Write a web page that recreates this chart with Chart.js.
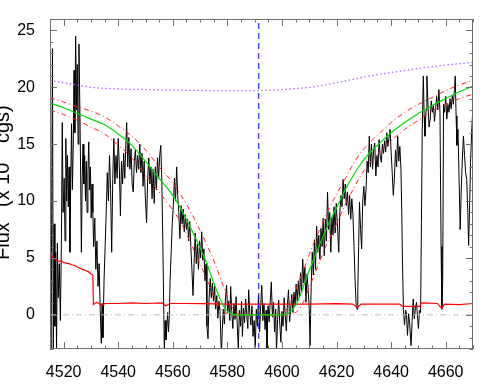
<!DOCTYPE html>
<html>
<head>
<meta charset="utf-8">
<script src="https://cdn.jsdelivr.net/npm/chart.js@4/dist/chart.umd.min.js"></script>
<style>
  body { margin: 0; background: #fff; }
  canvas { display: block; }
</style>
</head>
<body>
<canvas id="chart" width="498" height="388"></canvas>
<script>
// axis ticks
const xTicks = [4520, 4540, 4560, 4580, 4600, 4620, 4640, 4660];
const yTicks = [0, 5, 10, 15, 20, 25];
const markerWave = 4591.5;

// observed spectrum, [wavelength, flux]
const spectrum = [
    [4515, 2], [4515.3, -3.5], [4515.5, 3], [4515.9, 23.4], [4516.2, -3.5], [4516.5, 8.0], [4516.8, -1], [4517.1, 5.5],
    [4517.4, -3.2], [4517.7, 6.3], [4518, 1.5], [4518.4, 4.5], [4518.8, -0.5], [4519.2, 7], [4519.5, 16.9], [4519.8, 9],
    [4520.2, 12], [4520.5, 6.5], [4520.8, 15.5], [4521.1, 10], [4521.4, 14], [4521.7, 9.5], [4522, 13], [4522.3, 5.5],
    [4522.6, 12], [4522.9, 16.8], [4523.2, 11], [4523.5, 14.5], [4523.8, 21.5], [4524.1, 16], [4524.4, 24.5], [4524.7, 18],
    [4525, 22], [4525.3, 15], [4525.6, 23.8], [4525.9, 19], [4526.2, 13], [4526.5, 5.5], [4526.8, 12], [4527.1, 15],
    [4527.4, 11.5], [4527.7, 14], [4528, 10], [4528.3, 13.5], [4528.6, 9], [4528.9, 12.5], [4529.2, 15.2], [4529.5, 11],
    [4529.8, 13], [4530.1, 8.5], [4530.4, 11.5], [4530.7, 9], [4531, 6], [4531.4, 8.5], [4531.8, 4], [4532.2, 6.5],
    [4532.6, 2.5], [4533, 4.5], [4533.4, 0.5], [4533.8, -2.5], [4534.1, 1], [4534.4, -2], [4534.8, 3], [4535.2, 6],
    [4535.6, 9], [4536, 12.5], [4536.4, 10], [4536.8, 14], [4537.2, 11], [4537.6, 5.5], [4538, 12], [4538.4, 15.5],
    [4538.8, 11.5], [4539.2, 14], [4539.6, 12], [4540, 15.5], [4540.4, 13], [4540.8, 8.7], [4541.2, 13.5], [4541.6, 11.5],
    [4542, 14.2], [4542.4, 12], [4542.8, 15], [4543.1, 16.9], [4543.5, 13], [4543.9, 15.6], [4544.3, 12.8], [4544.7, 14.6],
    [4545.1, 11.5], [4545.5, 10.8], [4545.9, 13.5], [4546.3, 14.5], [4546.7, 12.5], [4547.1, 14], [4547.5, 12.8], [4547.9, 15],
    [4548.3, 12.5], [4548.7, 14.2], [4549.1, 11.3], [4549.5, 13.5], [4549.9, 10.5], [4550.4, 8.1], [4550.8, 12], [4551.2, 13.8],
    [4551.6, 11.5], [4552, 13], [4552.4, 10.2], [4552.8, 12.8], [4553.2, 9.8], [4553.6, 13], [4554, 11], [4554.4, 13.8],
    [4554.8, 12], [4555.2, 14], [4555.6, 14.9], [4556, 11.5], [4556.3, 7], [4556.6, 2], [4556.9, -3.3], [4557.2, -0.5],
    [4557.5, -2.2], [4557.8, -1], [4558.1, 0.2], [4558.4, -1.5], [4558.7, -0.3], [4559, 3], [4559.4, 5.5], [4559.8, 8],
    [4560.2, 9.6], [4560.6, 12], [4561, 10], [4561.4, 13], [4561.8, 10.5], [4562.2, 9], [4562.6, 6.7], [4563, 9.6],
    [4563.4, 8], [4563.8, 9.3], [4564.2, 7.3], [4564.6, 8.8], [4565, 7.5], [4565.4, 8.4], [4565.8, 6.5], [4566.2, 8.2],
    [4566.6, 6], [4567, 4], [4567.4, 1.7], [4567.8, 4.5], [4568.2, 7.2], [4568.6, 4.5], [4569, 6.2], [4569.4, 4],
    [4569.8, 6.5], [4570.2, 5], [4570.6, 7.3], [4571, 4.8], [4571.4, 5.8], [4571.8, 3], [4572.2, 4.5], [4572.5, -1],
    [4572.9, -2.1], [4573.3, 1.5], [4573.7, 3.2], [4574.1, 1.5], [4574.5, 2.8], [4574.9, 1.2], [4575.3, 2.5], [4575.7, 0.5],
    [4576.1, 1.7], [4576.5, -0.3], [4576.9, 1.2], [4577.3, 0.3], [4577.8, -3.6], [4578.1, -1.5], [4578.5, 0.5], [4578.9, -0.8],
    [4579.3, 1.5], [4579.7, 2.6], [4580.1, 0.2], [4580.5, 1.2], [4580.9, -0.5], [4581.2, 2.5], [4581.6, 0.3], [4582, -1.2],
    [4582.4, 1], [4582.8, -0.4], [4583.2, 1.6], [4583.6, -0.8], [4584, -3], [4584.4, 0.4], [4584.8, -1], [4585.2, 1.2],
    [4585.5, -1.9], [4585.9, 0.6], [4586.3, -0.7], [4586.7, 1.4], [4587.1, 0], [4587.5, -1.2], [4587.8, 2.2], [4588.2, 0.2],
    [4588.6, -0.9], [4589, 0.8], [4589.4, -1.9], [4589.8, -0.5], [4590.2, -3], [4590.6, 0.5], [4591, -1], [4591.4, 1.7],
    [4591.8, -1.5], [4592.2, 0.8], [4592.6, 2.6], [4593, -0.5], [4593.4, 1], [4593.8, -1.3], [4594.2, 0.4], [4594.5, -3],
    [4594.9, 0.8], [4595.3, -0.6], [4595.7, 1.2], [4596.1, 2.9], [4596.5, -0.2], [4596.9, 1.1], [4597.3, -1.5], [4597.7, 0.5],
    [4598, -3.3], [4598.4, -0.4], [4598.8, 1.3], [4599.2, -0.8], [4599.6, -2.4], [4600, 0.3], [4600.4, -1], [4600.8, 1.5],
    [4601.2, 0], [4601.6, -1.4], [4602, 0.9], [4602.4, 2.2], [4602.8, -0.6], [4603.2, 0.5], [4603.6, 1.8], [4604, 0.2],
    [4604.4, 2], [4604.8, 0.8], [4605.2, 2.7], [4605.6, 1.2], [4606, 3], [4606.4, 1.5], [4606.8, 3.7], [4607.2, 2],
    [4607.6, 4.9], [4608, 2.8], [4608.4, 4.2], [4608.8, 1.1], [4609.2, 3.6], [4609.6, 2.2], [4610, 0.5], [4610.3, -2.7],
    [4610.7, 2.5], [4611.1, 5.5], [4611.5, 3.5], [4611.9, 6.6], [4612.3, 4], [4612.7, 7.8], [4613.1, 5.5], [4613.5, 7],
    [4613.9, 4.9], [4614.3, 7.6], [4614.7, 6], [4615.1, 8.5], [4615.5, 5.2], [4615.9, 8.4], [4616.3, 6.5], [4616.7, 10.8],
    [4617.1, 7.5], [4617.5, 9], [4617.9, 5.5], [4618.3, 8.6], [4618.7, 7], [4619.1, 9.5], [4619.5, 7.2], [4619.9, 9.8],
    [4620.3, 8], [4620.8, 5.5], [4621.2, 9], [4621.6, 10.5], [4622, 9.5], [4622.4, 11.9], [4622.8, 10.2], [4623.2, 11.5],
    [4623.6, 9.6], [4624, 10.8], [4624.4, 8.8], [4624.8, 10.5], [4625.2, 8.4], [4625.6, 10.2], [4626, 8.8], [4626.4, 6],
    [4626.8, 3], [4627.2, 0.8], [4627.5, 0.5], [4627.8, 2.5], [4628.1, 6], [4628.4, 9.9], [4628.8, 7.5], [4629.2, 5.8],
    [4629.6, 10], [4630, 11.3], [4630.4, 9.6], [4630.8, 11], [4631.2, 13.5], [4631.6, 12.5], [4632, 15.7], [4632.4, 13],
    [4632.8, 15], [4633.2, 12.8], [4633.6, 14.5], [4634, 15.1], [4634.4, 12.2], [4634.8, 14], [4635.2, 13], [4635.6, 15.4],
    [4636, 14], [4636.4, 13.4], [4636.8, 15], [4637.2, 14.2], [4637.6, 15.3], [4638, 14.3], [4638.4, 16], [4638.8, 14.8],
    [4639.2, 15.5], [4639.6, 16.3], [4640, 14.3], [4640.4, 12.5], [4640.8, 10.5], [4641.2, 12], [4641.6, 14.5], [4642, 13],
    [4642.4, 15.7], [4642.8, 13.5], [4643.2, 14.8], [4643.6, 12.8], [4643.9, 9], [4644.1, 5.5], [4644.5, 0.5], [4644.9, -0.9],
    [4645.3, 0.4], [4645.6, 0.2], [4646, -1.8], [4646.4, 0.1], [4646.8, -0.8], [4647.3, -2.7], [4647.7, -0.5], [4648.1, 1.4],
    [4648.5, -0.35], [4648.9, 0.6], [4649.3, 1.1], [4649.7, -0.3], [4650, -1.2], [4650.4, 0.4], [4650.8, 0.2], [4651.1, 8],
    [4651.4, 16.3], [4651.8, 21], [4652.1, 17.5], [4652.4, 15.7], [4652.8, 18], [4653.1, 21], [4653.5, 18.5], [4653.9, 16.5],
    [4654.3, 17.2], [4654.7, 18.8], [4655.1, 17.8], [4655.5, 18.4], [4655.9, 17], [4656.3, 18.2], [4656.7, 19.2], [4657.1, 18],
    [4657.5, 19.8], [4657.9, 17.8], [4658.3, 6], [4658.6, 0.5], [4658.9, 3], [4659.2, 18.5], [4659.6, 17.8], [4660, 19.2],
    [4660.4, 17.2], [4660.8, 18.5], [4661.2, 17.8], [4661.6, 19.0], [4662, 18.1], [4662.4, 19.3], [4662.8, 18.5], [4663.2, 19.8],
    [4663.5, 21], [4663.8, 17.5], [4664.1, 14.9], [4664.5, 16.3], [4664.9, 12], [4665.3, 7.5], [4665.7, 11], [4666.1, 13.7],
    [4666.5, 15.7], [4666.9, 14], [4667.3, 12.5], [4667.7, 11.9], [4668.1, 9], [4668.4, 6.1], [4668.8, 10], [4669.1, 13.4],
    [4669.5, 16], [4669.8, 17.5], [4670, 17.8]
];

// fitted profile and its two bounds
const smoothWave = [4515, 4520, 4525, 4530, 4535, 4540, 4545, 4550, 4555, 4560, 4563, 4566, 4569, 4572, 4575, 4577,
    4579, 4581, 4583, 4585, 4587, 4590, 4595, 4598, 4600, 4602, 4604, 4606, 4608, 4610, 4612, 4614, 4616, 4618, 4620,
    4623, 4626, 4629, 4632, 4635, 4640, 4645, 4650, 4655, 4660, 4665, 4670];
const modelFlux = [18.6, 18.2, 17.7, 17.2, 16.7, 15.9, 14.9, 13.5, 12.0, 10.5, 9.3, 7.9, 6.4, 4.8, 2.8, 1.6,
    0.6, 0.15, 0.02, 0, 0, 0, 0, 0, 0, 0.1, 0.5, 1.3, 2.6, 3.9, 5.1, 6.3, 7.4, 8.5, 9.4,
    10.9, 12.2, 13.3, 14.2, 14.9, 16.0, 16.9, 17.7, 18.4, 19.0, 19.6, 20.1];
const upperFlux = [19.1, 18.7, 18.3, 17.9, 17.4, 16.6, 15.7, 14.5, 13.0, 11.6, 10.5, 9.3, 7.9, 6.4, 4.8, 3.5,
    2.2, 1.0, 0.3, 0.05, 0, 0, 0, 0, 0.1, 0.6, 1.6, 2.8, 4.0, 5.3, 6.5, 7.6, 8.7, 9.7, 10.6,
    11.9, 13.2, 14.3, 15.1, 15.8, 16.9, 17.8, 18.5, 19.1, 19.7, 20.2, 20.6];
const lowerFlux = [18.0, 17.6, 17.1, 16.5, 15.9, 14.9, 13.8, 12.3, 10.8, 9.2, 8.1, 6.6, 5.0, 3.4, 1.6, 0.7,
    0.2, 0.05, 0, 0, 0, 0, 0, 0, 0, 0, 0.1, 0.4, 1.2, 2.4, 3.6, 4.8, 6.0, 7.0, 8.0,
    9.6, 11.0, 12.3, 13.3, 14.1, 15.3, 16.3, 17.1, 17.9, 18.5, 19.0, 19.4];

// continuum (dotted)
const contWave = [4515, 4520, 4525, 4530, 4540, 4550, 4560, 4570, 4580, 4590, 4600, 4610, 4620, 4630, 4640, 4650, 4660, 4670];
const contFlux = [20.6, 20.4, 20.2, 20.0, 19.85, 19.8, 19.75, 19.72, 19.7, 19.7, 19.8, 20.0, 20.4, 20.9, 21.3, 21.65, 21.95, 22.2];

// error curve (red solid)
const errorCurve = [
    [4515, 4.8], [4515.5, 5.4], [4516, 5.0], [4517, 4.9], [4518, 4.7], [4519, 4.75], [4520, 4.6], [4521, 4.55],
    [4522, 4.5], [4523, 4.4], [4524, 4.35], [4525, 4.2], [4526, 4.1], [4527, 4.0], [4528, 3.9], [4529, 3.8],
    [4530, 3.6], [4530.7, 3.5], [4530.9, 0.9], [4532, 1.1], [4533, 1.0], [4534, 0.8], [4535, 1.0], [4540, 1.0],
    [4545, 1.05], [4550, 1.0], [4556, 1.05], [4557.5, 0.8], [4559, 1.0], [4565, 1.0], [4570, 0.98], [4580, 0.95],
    [4590, 0.95], [4600, 0.95], [4610, 0.95], [4620, 0.98], [4626, 0.95], [4627.5, 0.65], [4629, 0.95], [4635, 0.95],
    [4643, 0.95], [4644.5, 0.75], [4650.5, 0.75], [4651, 1.05], [4657, 1.0], [4658.6, 0.55], [4659.5, 0.95], [4665, 0.9],
    [4670, 1.0]
];

const FONT = '"Liberation Sans", Arial, Helvetica, sans-serif';

function toPoints(xs, ys) {
    return xs.map((x, i) => ({ x: x, y: ys[i] }));
}

function pairsToPoints(pairs) {
    return pairs.map(p => ({ x: p[0], y: p[1] }));
}

// IDL style box with inward ticks on all four sides, plus the clipped y title
const boxPlugin = {
    id: 'box',
    afterDraw(chart) {
        const ctx = chart.ctx;
        const a = chart.chartArea;
        const xs = chart.scales.x;
        const ys = chart.scales.y;
        ctx.save();
        ctx.strokeStyle = '#707070';
        ctx.lineWidth = 1;
        ctx.strokeRect(a.left + 0.5, a.top + 0.5, a.right - a.left - 1, a.bottom - a.top - 1);
        ctx.beginPath();
        for (let v = 4515; v <= 4670; v += 5) {
            const px = Math.round(xs.getPixelForValue(v)) + 0.5;
            const len = v % 20 === 0 ? 7 : 3.5;
            ctx.moveTo(px, a.bottom); ctx.lineTo(px, a.bottom - len);
            ctx.moveTo(px, a.top); ctx.lineTo(px, a.top + len);
        }
        for (let v = -3; v <= 26; v += 1) {
            const py = Math.round(ys.getPixelForValue(v)) + 0.5;
            const len = v % 5 === 0 ? 7 : 3.5;
            ctx.moveTo(a.left, py); ctx.lineTo(a.left + len, py);
            ctx.moveTo(a.right, py); ctx.lineTo(a.right - len, py);
        }
        ctx.stroke();

        // y title, partly cut by the canvas edge
        ctx.translate(9, 0);
        ctx.rotate(-Math.PI / 2);
        ctx.fillStyle = '#000';
        ctx.textBaseline = 'alphabetic';
        ctx.textAlign = 'left';
        ctx.font = '20px ' + FONT;
        ctx.fillText('Flux', -260, 0);
        ctx.fillText('(x 10', -207, 0);
        ctx.font = '13px ' + FONT;
        ctx.fillText('-13', -159, -11);
        ctx.font = '20px ' + FONT;
        ctx.fillText('cgs)', -143, 0);
        ctx.restore();
    }
};

const ctx = document.getElementById('chart');

new Chart(ctx, {
    type: 'line',
    data: {
        datasets: [
            {
                label: 'center',
                data: [{ x: markerWave, y: -3 }, { x: markerWave, y: 26 }],
                borderColor: '#0000ff',
                borderWidth: 1,
                borderDash: [6, 4]
            },
            {
                label: 'model',
                data: toPoints(smoothWave, modelFlux),
                borderColor: '#00e000',
                borderWidth: 1.2,
                cubicInterpolationMode: 'monotone'
            },
            {
                label: 'upper',
                data: toPoints(smoothWave, upperFlux),
                borderColor: '#ff2020',
                borderWidth: 1,
                borderDash: [5, 3, 1, 3],
                cubicInterpolationMode: 'monotone'
            },
            {
                label: 'lower',
                data: toPoints(smoothWave, lowerFlux),
                borderColor: '#ff2020',
                borderWidth: 1,
                borderDash: [5, 3, 1, 3],
                cubicInterpolationMode: 'monotone'
            },
            {
                label: 'continuum',
                data: toPoints(contWave, contFlux),
                borderColor: '#b666ff',
                borderWidth: 1.3,
                borderDash: [1.5, 2.5],
                cubicInterpolationMode: 'monotone'
            },
            {
                label: 'error',
                data: pairsToPoints(errorCurve),
                borderColor: '#ff0000',
                borderWidth: 1.2
            },
            {
                label: 'zero',
                data: [{ x: 4515, y: 0 }, { x: 4670, y: 0 }],
                borderColor: '#c0c0c0',
                borderWidth: 1,
                borderDash: [6, 3, 1, 3]
            },
            {
                label: 'spectrum',
                data: pairsToPoints(spectrum),
                borderColor: '#000000',
                borderWidth: 1
            }
        ]
    },
    options: {
        responsive: false,
        animation: false,
        layout: { padding: { top: 19, right: 25, left: 0, bottom: 0 } },
        elements: { point: { radius: 0 }, line: { tension: 0 } },
        plugins: { legend: { display: false }, tooltip: { enabled: false } },
        scales: {
            x: {
                type: 'linear',
                min: 4515,
                max: 4670,
                grid: { display: false },
                border: { display: false },
                afterBuildTicks: s => { s.ticks = xTicks.map(v => ({ value: v })); },
                afterFit: s => { s.height = 39; },
                ticks: {
                    font: { family: FONT, size: 16 },
                    color: '#000',
                    padding: 6,
                    maxRotation: 0,
                    autoSkip: false,
                    callback: v => String(v)
                }
            },
            y: {
                type: 'linear',
                min: -3,
                max: 26,
                grid: { display: false },
                border: { display: false },
                afterBuildTicks: s => { s.ticks = yTicks.map(v => ({ value: v })); },
                afterFit: s => { s.width = 50; },
                ticks: {
                    font: { family: FONT, size: 16 },
                    color: '#000',
                    padding: 7,
                    callback: v => String(v)
                }
            }
        }
    },
    plugins: [boxPlugin]
});
</script>
</body>
</html>
